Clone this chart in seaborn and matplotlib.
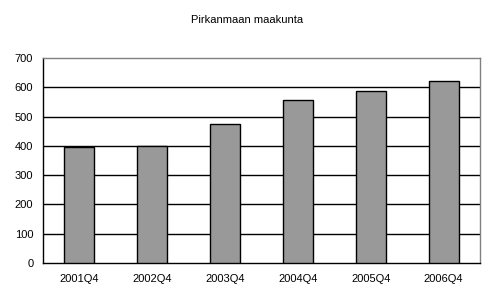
import matplotlib
matplotlib.use("Agg")
import matplotlib.pyplot as plt
import seaborn as sns
import numpy as np
import pandas as pd

categories = ["2001Q4", "2002Q4", "2003Q4", "2004Q4", "2005Q4", "2006Q4"]
values = [395, 400, 473, 555, 586, 623]
y_ticks = [0, 100, 200, 300, 400, 500, 600, 700]
title = "Pirkanmaan maakunta"

sns.set_style("white")
plt.rcParams['font.family'] = ['Liberation Sans', 'DejaVu Sans']
plt.rcParams['text.color'] = 'black'
plt.rcParams['xtick.color'] = 'black'
plt.rcParams['ytick.color'] = 'black'

fig = plt.figure(figsize=(4.95, 3.05), dpi=100)
ax = fig.add_axes([43/495, 42/305, 437/495, 205/305])

df = pd.DataFrame({"cat": categories, "val": values})
sns.barplot(data=df, x="cat", y="val", ax=ax, color="#999999", width=0.41,
            edgecolor="black", linewidth=1.0, saturation=1, zorder=3)

ax.set_ylim(0, 700)
ax.set_xlim(-0.5, len(categories) - 0.5)
ax.set_yticks(y_ticks)
for y in y_ticks[1:-1]:
    ax.axhline(y, color="black", linewidth=1.0, zorder=1)

ax.set_xlabel("")
ax.set_ylabel("")
ax.tick_params(axis="x", which="major", length=0, labelsize=8, pad=8, labelcolor="black")
ax.set_xticks(np.arange(-0.5, len(categories) + 0.5, 1), minor=True)
ax.tick_params(axis="x", which="minor", length=4, direction="out", width=1, color="black")
ax.tick_params(axis="y", length=4, direction="out", labelsize=8, width=1, color="black",
               pad=3, labelcolor="black")

for s in ["left", "bottom"]:
    ax.spines[s].set_color("black")
    ax.spines[s].set_linewidth(1.0)
for s in ["top", "right"]:
    ax.spines[s].set_visible(True)
    ax.spines[s].set_color("#808080")
    ax.spines[s].set_linewidth(1.0)

fig.text(0.5, 1 - 20/305, title, ha="center", va="center", fontsize=8, color="black")

fig.savefig("out.png", dpi=100)
